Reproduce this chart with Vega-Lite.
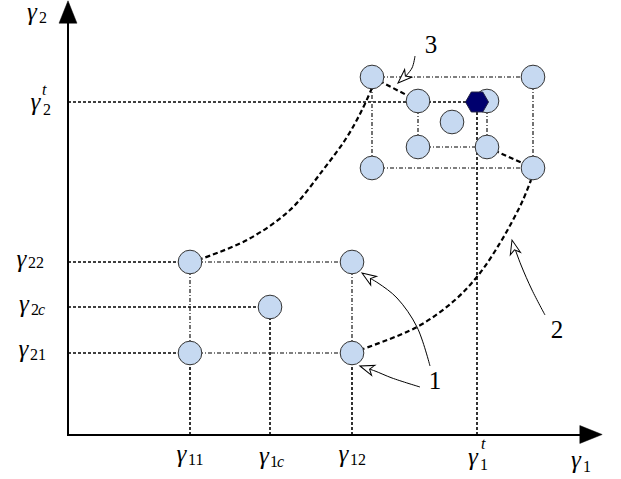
{
  "$schema": "https://vega.github.io/schema/vega-lite/v6.json",
  "width": 621,
  "height": 479,
  "padding": 0,
  "autosize": "none",
  "background": "white",
  "config": {"view": {"stroke": null}},
  "datasets": {
    "lines": [
      {"id": "h22", "style": "dot", "ord": 0, "x": 68, "y": 262}, {"id": "h22", "style": "dot", "ord": 1, "x": 190, "y": 262},
      {"id": "h2c", "style": "dot", "ord": 0, "x": 68, "y": 307}, {"id": "h2c", "style": "dot", "ord": 1, "x": 270, "y": 307},
      {"id": "h21", "style": "dot", "ord": 0, "x": 68, "y": 353}, {"id": "h21", "style": "dot", "ord": 1, "x": 190, "y": 353},
      {"id": "h2t", "style": "dot", "ord": 0, "x": 68, "y": 102}, {"id": "h2t", "style": "dot", "ord": 1, "x": 477, "y": 102},
      {"id": "v11", "style": "dot", "ord": 0, "x": 190, "y": 435}, {"id": "v11", "style": "dot", "ord": 1, "x": 190, "y": 353},
      {"id": "v1c", "style": "dot", "ord": 0, "x": 270, "y": 435}, {"id": "v1c", "style": "dot", "ord": 1, "x": 270, "y": 307},
      {"id": "v12", "style": "dot", "ord": 0, "x": 352, "y": 435}, {"id": "v12", "style": "dot", "ord": 1, "x": 352, "y": 353},
      {"id": "v1t", "style": "dot", "ord": 0, "x": 477, "y": 435}, {"id": "v1t", "style": "dot", "ord": 1, "x": 477, "y": 102},
      {"id": "b1", "style": "dd", "ord": 0, "x": 190, "y": 262}, {"id": "b1", "style": "dd", "ord": 1, "x": 352, "y": 262},
      {"id": "b2", "style": "dd", "ord": 0, "x": 190, "y": 262}, {"id": "b2", "style": "dd", "ord": 1, "x": 190, "y": 353},
      {"id": "b3", "style": "dd", "ord": 0, "x": 190, "y": 353}, {"id": "b3", "style": "dd", "ord": 1, "x": 352, "y": 353},
      {"id": "b4", "style": "dd", "ord": 0, "x": 352, "y": 262}, {"id": "b4", "style": "dd", "ord": 1, "x": 352, "y": 353},
      {"id": "o1", "style": "dd", "ord": 0, "x": 372, "y": 77}, {"id": "o1", "style": "dd", "ord": 1, "x": 533, "y": 77},
      {"id": "o2", "style": "dd", "ord": 0, "x": 372, "y": 77}, {"id": "o2", "style": "dd", "ord": 1, "x": 372, "y": 168},
      {"id": "o3", "style": "dd", "ord": 0, "x": 372, "y": 168}, {"id": "o3", "style": "dd", "ord": 1, "x": 533, "y": 168},
      {"id": "o4", "style": "dd", "ord": 0, "x": 533, "y": 77}, {"id": "o4", "style": "dd", "ord": 1, "x": 533, "y": 168},
      {"id": "i1", "style": "dd", "ord": 0, "x": 418, "y": 101}, {"id": "i1", "style": "dd", "ord": 1, "x": 418, "y": 147},
      {"id": "i2", "style": "dd", "ord": 0, "x": 418, "y": 147}, {"id": "i2", "style": "dd", "ord": 1, "x": 487, "y": 147},
      {"id": "i3", "style": "dd", "ord": 0, "x": 487, "y": 101}, {"id": "i3", "style": "dd", "ord": 1, "x": 487, "y": 147},
      {"id": "d1", "style": "dash", "ord": 0, "x": 372, "y": 77}, {"id": "d1", "style": "dash", "ord": 1, "x": 418, "y": 101},
      {"id": "d2", "style": "dash", "ord": 0, "x": 487, "y": 147}, {"id": "d2", "style": "dash", "ord": 1, "x": 533, "y": 168},
      {"id": "c1", "style": "dash", "ord": 0, "x": 198, "y": 260},
      {"id": "c1", "style": "dash", "ord": 1, "x": 247, "y": 240},
      {"id": "c1", "style": "dash", "ord": 2, "x": 290, "y": 210},
      {"id": "c1", "style": "dash", "ord": 3, "x": 323, "y": 170},
      {"id": "c1", "style": "dash", "ord": 4, "x": 347, "y": 137},
      {"id": "c1", "style": "dash", "ord": 5, "x": 362, "y": 110},
      {"id": "c1", "style": "dash", "ord": 6, "x": 372, "y": 88},
      {"id": "c2", "style": "dash", "ord": 0, "x": 360, "y": 350},
      {"id": "c2", "style": "dash", "ord": 1, "x": 417, "y": 327},
      {"id": "c2", "style": "dash", "ord": 2, "x": 455, "y": 300},
      {"id": "c2", "style": "dash", "ord": 3, "x": 480, "y": 273},
      {"id": "c2", "style": "dash", "ord": 4, "x": 500, "y": 243},
      {"id": "c2", "style": "dash", "ord": 5, "x": 513, "y": 220},
      {"id": "c2", "style": "dash", "ord": 6, "x": 523, "y": 200},
      {"id": "c2", "style": "dash", "ord": 7, "x": 531, "y": 180},
      {"id": "a1u", "style": "thin", "ord": 0, "x": 430, "y": 366},
      {"id": "a1u", "style": "thin", "ord": 1, "x": 417, "y": 327},
      {"id": "a1u", "style": "thin", "ord": 2, "x": 397, "y": 298},
      {"id": "a1u", "style": "thin", "ord": 3, "x": 378, "y": 283},
      {"id": "a1u", "style": "thin", "ord": 4, "x": 366, "y": 276},
      {"id": "a1l", "style": "thin", "ord": 0, "x": 420, "y": 387},
      {"id": "a1l", "style": "thin", "ord": 1, "x": 392, "y": 378},
      {"id": "a1l", "style": "thin", "ord": 2, "x": 375, "y": 371},
      {"id": "a1l", "style": "thin", "ord": 3, "x": 366, "y": 368},
      {"id": "a2", "style": "thin", "ord": 0, "x": 545, "y": 315},
      {"id": "a2", "style": "thin", "ord": 1, "x": 532, "y": 290},
      {"id": "a2", "style": "thin", "ord": 2, "x": 521, "y": 265},
      {"id": "a2", "style": "thin", "ord": 3, "x": 514, "y": 246},
      {"id": "a3", "style": "thin", "ord": 0, "x": 415, "y": 56},
      {"id": "a3", "style": "thin", "ord": 1, "x": 412, "y": 68},
      {"id": "a3", "style": "thin", "ord": 2, "x": 403, "y": 79},
      {"id": "ax", "style": "axis", "ord": 0, "x": 68, "y": 435}, {"id": "ax", "style": "axis", "ord": 1, "x": 584, "y": 435},
      {"id": "ay", "style": "axis", "ord": 0, "x": 68, "y": 436}, {"id": "ay", "style": "axis", "ord": 1, "x": 68, "y": 18}
    ],
    "circles": [
      {"x": 190, "y": 262}, {"x": 352, "y": 262}, {"x": 270, "y": 307}, {"x": 190, "y": 353}, {"x": 352, "y": 353},
      {"x": 372, "y": 77}, {"x": 533, "y": 77}, {"x": 372, "y": 168}, {"x": 533, "y": 168},
      {"x": 418, "y": 101}, {"x": 487, "y": 101}, {"x": 452, "y": 122}, {"x": 418, "y": 147}, {"x": 487, "y": 147}
    ],
    "target": [{"x": 477, "y": 102}],
    "heads": [
      {"x": 367.8, "y": 276.9, "ang": 213.7},
      {"x": 366.6, "y": 368.2, "ang": 198.4},
      {"x": 513.7, "y": 246.8, "ang": 256},
      {"x": 403.1, "y": 78.2, "ang": 137}
    ],
    "axisheads": [
      {"x": 591, "y": 434.5, "ang": 90},
      {"x": 68, "y": 12, "ang": 0}
    ],
    "gam": [
      {"x": 32, "y": 20, "t": "γ"},
      {"x": 35.5, "y": 110, "t": "γ"},
      {"x": 21.5, "y": 267, "t": "γ"},
      {"x": 24, "y": 312, "t": "γ"},
      {"x": 23.5, "y": 357, "t": "γ"},
      {"x": 181.5, "y": 462, "t": "γ"},
      {"x": 264, "y": 464, "t": "γ"},
      {"x": 343.5, "y": 462, "t": "γ"},
      {"x": 473, "y": 465, "t": "γ"},
      {"x": 576, "y": 468, "t": "γ"}
    ],
    "subs": [
      {"x": 39, "y": 23, "t": "2"},
      {"x": 43, "y": 115, "t": "2"},
      {"x": 28, "y": 268, "t": "22"},
      {"x": 31, "y": 315, "t": "2"},
      {"x": 30, "y": 360, "t": "21"},
      {"x": 188, "y": 465, "t": "11"},
      {"x": 270, "y": 467, "t": "1"},
      {"x": 350, "y": 465, "t": "12"},
      {"x": 480, "y": 470, "t": "1"},
      {"x": 583, "y": 472, "t": "1"}
    ],
    "subsi": [
      {"x": 42, "y": 95, "t": "t"},
      {"x": 38, "y": 315, "t": "c"},
      {"x": 277, "y": 467, "t": "c"},
      {"x": 481, "y": 449, "t": "t"}
    ],
    "nums": [
      {"x": 435, "y": 389, "t": "1"},
      {"x": 557, "y": 338, "t": "2"},
      {"x": 431, "y": 53, "t": "3"}
    ]
  },
  "encoding": {
    "x": {"field": "x", "type": "quantitative", "scale": {"domain": [0, 621], "nice": false, "zero": false}, "axis": null},
    "y": {"field": "y", "type": "quantitative", "scale": {"domain": [0, 479], "reverse": true, "nice": false, "zero": false}, "axis": null}
  },
  "layer": [
    {
      "data": {"name": "lines"},
      "transform": [{"filter": "datum.style === 'dot'"}],
      "mark": {"type": "line", "color": "black", "strokeWidth": 1.6, "strokeDash": [3, 2], "strokeCap": "butt"},
      "encoding": {"detail": {"field": "id"}, "order": {"field": "ord", "type": "quantitative"}}
    },
    {
      "data": {"name": "lines"},
      "transform": [{"filter": "datum.style === 'dd'"}],
      "mark": {"type": "line", "color": "black", "strokeWidth": 1.1, "strokeDash": [4, 2, 1, 2], "strokeCap": "butt"},
      "encoding": {"detail": {"field": "id"}, "order": {"field": "ord", "type": "quantitative"}}
    },
    {
      "data": {"name": "lines"},
      "transform": [{"filter": "datum.style === 'dash'"}],
      "mark": {"type": "line", "color": "black", "strokeWidth": 2.2, "strokeDash": [5, 3], "strokeCap": "butt", "interpolate": "catmull-rom"},
      "encoding": {"detail": {"field": "id"}, "order": {"field": "ord", "type": "quantitative"}}
    },
    {
      "data": {"name": "circles"},
      "mark": {"type": "point", "shape": "circle", "filled": true, "fill": "#c6d9f1", "stroke": "#333333", "strokeWidth": 1, "size": 560, "opacity": 1, "fillOpacity": 1}
    },
    {
      "data": {"name": "target"},
      "mark": {"type": "point", "shape": "M -1 0 L -0.5 -0.866 L 0.5 -0.866 L 1 0 L 0.5 0.866 L -0.5 0.866 Z", "filled": true, "fill": "#00006e", "stroke": "#222244", "strokeWidth": 1, "size": 530, "opacity": 1}
    },
    {
      "data": {"name": "lines"},
      "transform": [{"filter": "datum.style === 'thin'"}],
      "mark": {"type": "line", "color": "black", "strokeWidth": 1, "interpolate": "catmull-rom"},
      "encoding": {"detail": {"field": "id"}, "order": {"field": "ord", "type": "quantitative"}}
    },
    {
      "data": {"name": "heads"},
      "mark": {"type": "point", "shape": "M 1 0 L -1 -0.75 L -0.45 0 L -1 0.75 Z", "filled": true, "fill": "white", "stroke": "black", "strokeWidth": 1, "size": 196, "opacity": 1},
      "encoding": {"angle": {"field": "ang", "type": "quantitative", "scale": null}}
    },
    {
      "data": {"name": "lines"},
      "transform": [{"filter": "datum.style === 'axis'"}],
      "mark": {"type": "line", "color": "black", "strokeWidth": 2},
      "encoding": {"detail": {"field": "id"}, "order": {"field": "ord", "type": "quantitative"}}
    },
    {
      "data": {"name": "axisheads"},
      "mark": {"type": "point", "shape": "M 0 -1 L 0.8 1 L -0.8 1 Z", "filled": true, "fill": "black", "stroke": "black", "strokeWidth": 0.5, "size": 500, "opacity": 1},
      "encoding": {"angle": {"field": "ang", "type": "quantitative", "scale": null}}
    },
    {
      "data": {"name": "gam"},
      "mark": {"type": "text", "font": "'Times New Roman', 'Liberation Serif', 'DejaVu Serif', serif", "fontStyle": "italic", "fontSize": 25, "align": "center", "baseline": "alphabetic", "color": "black"},
      "encoding": {"text": {"field": "t"}}
    },
    {
      "data": {"name": "subs"},
      "mark": {"type": "text", "font": "'Times New Roman', 'Liberation Serif', 'DejaVu Serif', serif", "fontSize": 16, "align": "left", "baseline": "alphabetic", "color": "black"},
      "encoding": {"text": {"field": "t"}}
    },
    {
      "data": {"name": "subsi"},
      "mark": {"type": "text", "font": "'Times New Roman', 'Liberation Serif', 'DejaVu Serif', serif", "fontStyle": "italic", "fontSize": 16, "align": "left", "baseline": "alphabetic", "color": "black"},
      "encoding": {"text": {"field": "t"}}
    },
    {
      "data": {"name": "nums"},
      "mark": {"type": "text", "font": "'Times New Roman', 'Liberation Serif', 'DejaVu Serif', serif", "fontSize": 25, "align": "center", "baseline": "alphabetic", "color": "black"},
      "encoding": {"text": {"field": "t"}}
    }
  ]
}
